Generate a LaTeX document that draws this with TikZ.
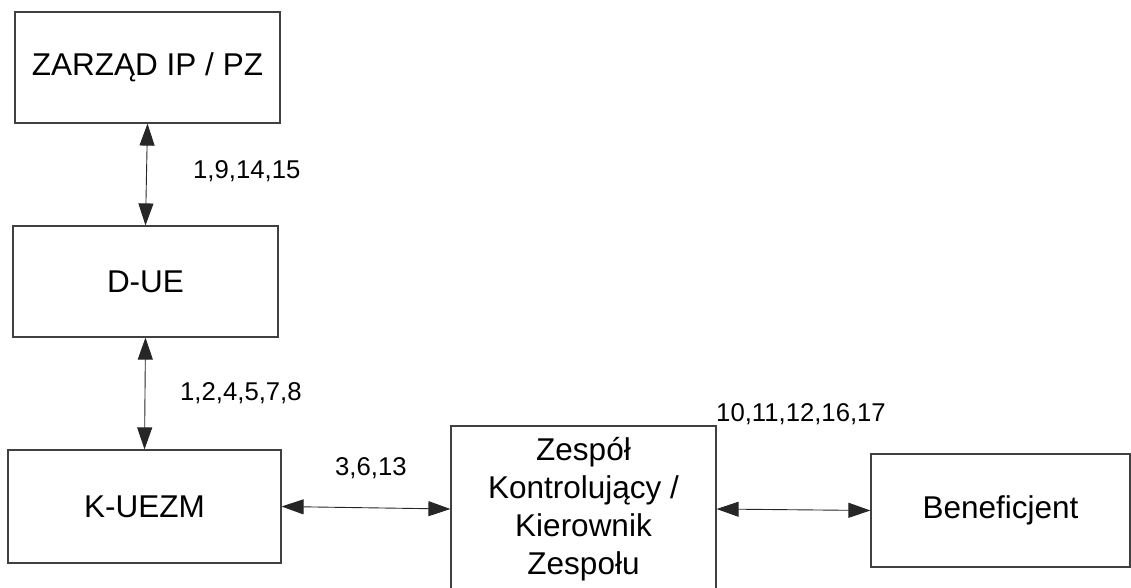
\documentclass[tikz,border=0pt]{standalone}
\usepackage{fontspec}
\setmainfont{Liberation Sans}
\usetikzlibrary{arrows.meta}
\begin{document}
\begin{tikzpicture}[x=1pt,y=-1pt,
  box/.style={draw=black!75, line width=1.2pt, fill=white, inner sep=0pt, align=center,
    font=\fontsize{31.5}{38}\selectfont},
  lbl/.style={inner sep=0pt, anchor=base west, font=\fontsize{25.7}{30}\selectfont},
  link/.style={draw=black!85, line width=0.9pt, {Triangle[length=22pt,width=15pt]}-{Triangle[length=22pt,width=15pt]}}]
\useasboundingbox (0,0) rectangle (1131,587);
\node[box, minimum width=265pt, minimum height=111pt] (zarz) at (147.5,67.5) {ZARZĄD IP / PZ};
\node[box, minimum width=265pt, minimum height=111pt] (due) at (145.5,281.5) {D-UE};
\node[box, minimum width=273pt, minimum height=113pt] (kuezm) at (144.5,506.5) {K-UEZM};
\node[box, minimum width=265pt, minimum height=166pt] (zesp) at (583.5,509) {Zespół\\Kontrolujący /\\Kierownik\\Zespołu};
\node[box, minimum width=259pt, minimum height=113pt] (benef) at (1000.5,510.5) {Beneficjent};
\draw[link] (zarz.south) -- (due.north);
\draw[link] (due.south) -- (kuezm.north);
\draw[link] (kuezm.east) -- (zesp.west);
\draw[link] (zesp.east) -- (benef.west);
\node[lbl] (l1) at (193,178) {1,9,14,15};
\node[lbl] (l2) at (180,400) {1,2,4,5,7,8};
\node[lbl] (l3) at (335,475) {3,6,13};
\node[lbl] (l4) at (716,421.7) {10,11,12,16,17};
\end{tikzpicture}
\end{document}
